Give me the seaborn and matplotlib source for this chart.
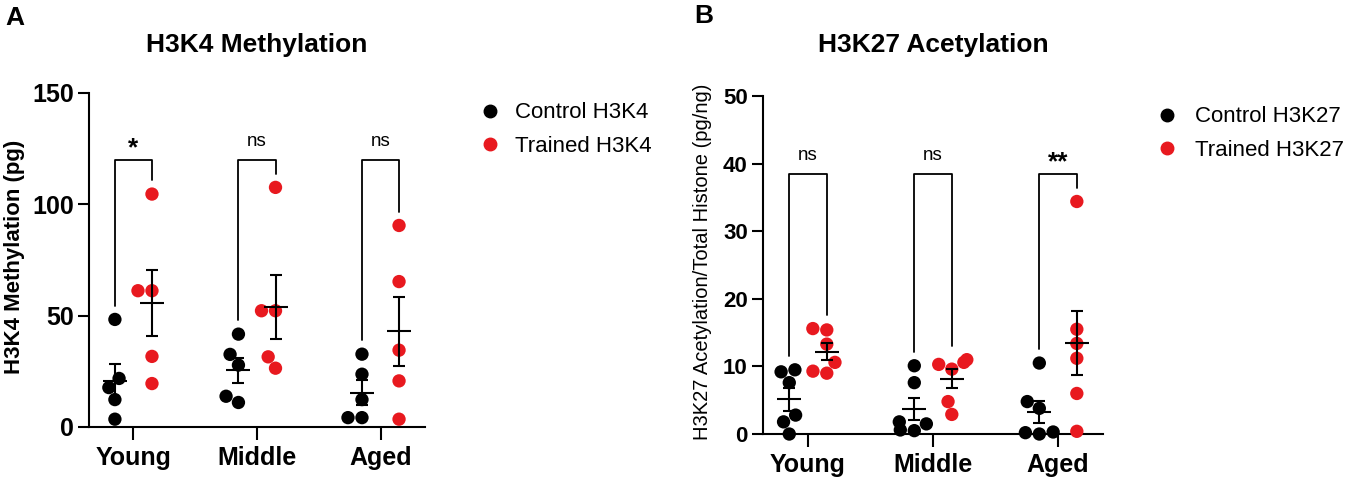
import numpy as np
import pandas as pd
import matplotlib
matplotlib.use("Agg")
import matplotlib.pyplot as plt
from matplotlib.lines import Line2D
import seaborn as sns

# ---- data ----
ages = ["Young", "Middle", "Aged"]

# panel A: H3K4 methylation (pg)
h3k4_control = [[48.3, 21.8, 17.7, 12.3, 3.5],
                [41.7, 32.6, 27.8, 13.8, 11.0],
                [32.7, 23.7, 12.3, 4.2, 4.2]]
h3k4_trained = [[104.6, 61.2, 61.2, 31.7, 19.5],
                [107.6, 52.2, 52.2, 31.5, 26.4],
                [90.5, 65.3, 34.5, 20.7, 3.5]]
h3k4_sig = ["*", "ns", "ns"]

# panel B: H3K27 acetylation / total histone (pg/ng)
h3k27_control = [[9.5, 9.2, 7.6, 2.8, 1.8, 0.0],
                 [10.1, 7.6, 1.8, 1.5, 0.6, 0.5],
                 [10.5, 4.8, 3.8, 0.3, 0.2, 0.0]]
h3k27_trained = [[15.6, 15.4, 13.3, 10.6, 9.3, 9.0],
                 [11.0, 10.6, 10.3, 9.6, 4.8, 2.9],
                 [34.4, 15.5, 13.4, 11.2, 6.0, 0.4]]
h3k27_sig = ["ns", "ns", "**"]

RED = "#e8191f"
OFFSET = 0.15

sns.set_style("ticks")
plt.rcParams['font.family'] = ['Liberation Sans', 'DejaVu Sans']
# GraphPad style: everything pure black
for key in ["text.color", "axes.labelcolor", "axes.edgecolor",
            "xtick.color", "ytick.color"]:
    plt.rcParams[key] = "black"


def make_df(control, trained, names):
    rows = []
    for i, age in enumerate(ages):
        for v in control[i]:
            rows.append((age, names[0], i - OFFSET, v))
        for v in trained[i]:
            rows.append((age, names[1], i + OFFSET, v))
    return pd.DataFrame(rows, columns=["age", "group", "pos", "value"])


def draw_panel(ax, df, names, sig, ymax, ystep, bracket_top, ylabel,
               ylabel_kw, ytick_size):
    sns.swarmplot(data=df, x="pos", y="value", hue="group", native_scale=True,
                  palette={names[0]: "black", names[1]: RED}, size=9.6,
                  linewidth=0, legend=False, ax=ax, zorder=3)
    for c in ax.collections:
        c.set_clip_on(False)

    # mean +/- SEM
    stats = df.groupby("pos")["value"].agg(["mean", "sem"]).reset_index()
    ax.errorbar(stats["pos"], stats["mean"], yerr=stats["sem"], fmt="none",
                ecolor="black", elinewidth=1.5, capsize=4.3, capthick=1.5,
                zorder=4)
    ax.errorbar(stats["pos"], stats["mean"], fmt="_", color="black",
                markersize=17, markeredgewidth=1.5, zorder=4)

    # significance brackets
    gap = 0.041 * ymax
    maxes = df.groupby("pos")["value"].max()
    for i, label in enumerate(sig):
        xl, xr = i - OFFSET, i + OFFSET
        ax.plot([xl, xl, xr, xr],
                [maxes[xl] + gap, bracket_top, bracket_top, maxes[xr] + gap],
                color="black", lw=1.3, zorder=2)
        if label == "ns":
            ax.text(i, bracket_top + 0.055 * ymax, label, ha="center",
                    va="center", fontsize=13.5)
        else:
            ax.text(i, bracket_top + 0.035 * ymax, label, ha="center",
                    va="center", fontsize=19, fontweight="bold")

    ax.set_xlim(-0.36, 2.36)
    ax.set_ylim(0, ymax)
    ax.set_yticks(np.arange(0, ymax + 1, ystep))
    ax.set_xticks(range(len(ages)))
    ax.set_xticklabels(ages, fontsize=18, fontweight="bold")
    for t in ax.get_yticklabels():
        t.set_fontsize(ytick_size)
        t.set_fontweight("bold")
    ax.set_xlabel("")
    ax.set_ylabel(ylabel, **ylabel_kw)
    sns.despine(ax=ax)
    for s in ["left", "bottom"]:
        ax.spines[s].set_linewidth(1.5)
    ax.tick_params(axis="x", length=9.5, width=1.5, pad=4)
    ax.tick_params(axis="y", length=8, width=1.5, pad=3)


fig = plt.figure(figsize=(13.5, 4.79), dpi=100)
axA = fig.add_axes([0.0659, 0.1086, 0.2489, 0.6973])
axB = fig.add_axes([0.5652, 0.0939, 0.2519, 0.7056])

namesA = ["Control H3K4", "Trained H3K4"]
namesB = ["Control H3K27", "Trained H3K27"]
dfA = make_df(h3k4_control, h3k4_trained, namesA)
dfB = make_df(h3k27_control, h3k27_trained, namesB)

draw_panel(axA, dfA, namesA, h3k4_sig, 150, 50, 120,
           "H3K4 Methylation (pg)", dict(fontsize=16, fontweight="bold"), 18)
axA.yaxis.set_label_coords(-0.19, 0.51)
draw_panel(axB, dfB, namesB, h3k27_sig, 50, 10, 38.4,
           "H3K27 Acetylation/Total Histone (pg/ng)", dict(fontsize=14.5), 16)
axB.yaxis.set_label_coords(-0.15, 0.51)

# titles and panel letters
fig.text(0.1904, 1 - 52 / 479, "H3K4 Methylation", ha="center", va="baseline",
         fontsize=19, fontweight="bold")
fig.text(0.6911, 1 - 52 / 479, "H3K27 Acetylation", ha="center", va="baseline",
         fontsize=19, fontweight="bold")
fig.text(0.004, 1 - 6 / 479, "A", ha="left", va="top", fontsize=19,
         fontweight="bold")
fig.text(0.514, 1 - 4 / 479, "B", ha="left", va="top", fontsize=19,
         fontweight="bold")


def add_legend(names, x, y, pad):
    handles = [Line2D([], [], ls="none", marker="o", markersize=9,
                      color=c) for c in ["black", RED]]
    fig.legend(handles, names, loc="center left", bbox_to_anchor=(x, y),
               frameon=False, fontsize=16, handlelength=1, handletextpad=pad,
               labelspacing=0.55, borderpad=0, borderaxespad=0)


add_legend(namesA, 479 / 1350, 1 - 129.5 / 479, 0.64)
add_legend(namesB, 1156 / 1350, 1 - 133.5 / 479, 0.77)

fig.savefig("out.png", dpi=100)
